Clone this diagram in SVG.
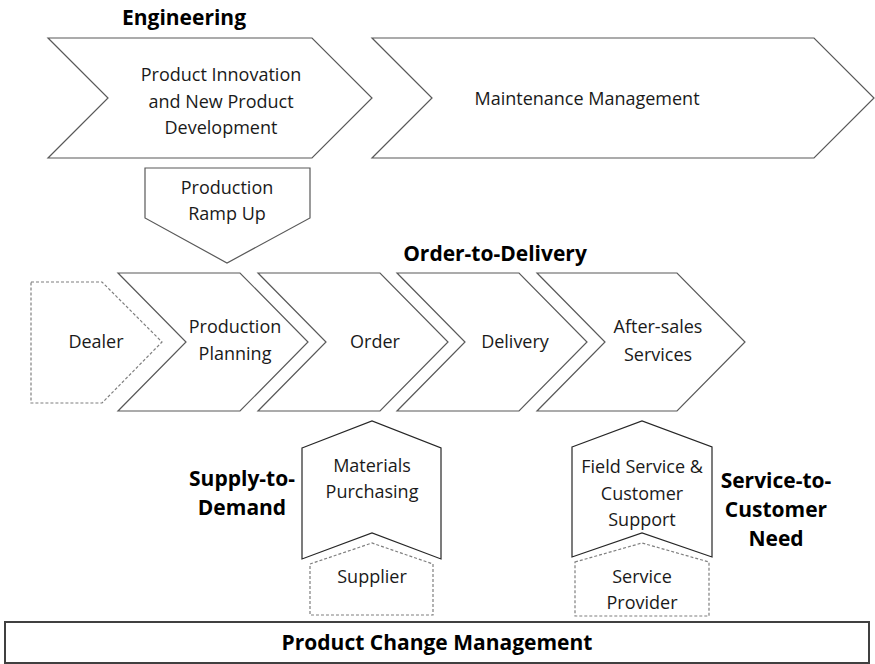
<svg xmlns="http://www.w3.org/2000/svg" width="875" height="664" viewBox="0 0 875 664">
<style>
.bg{fill:#fff}
.ch{fill:#fff;stroke:#595959;stroke-width:1.2}
.sd{fill:#fff;stroke:#262626;stroke-width:1.2}
.ds{fill:#fff;stroke:#7f7f7f;stroke-width:1.2;stroke-dasharray:3 2}
.bx{fill:#fff;stroke:#404040;stroke-width:2}
.t{font-family:"Open Sans","Liberation Sans",sans-serif;font-size:18px;fill:#1a1a1a;text-anchor:middle}
.h{font-family:"Open Sans","Liberation Sans",sans-serif;font-size:21px;font-weight:bold;fill:#000;text-anchor:middle}
</style>
<rect class="bg" x="0" y="0" width="875" height="664"/>
<g id="title-engineering"><text class="h" x="184" y="25">Engineering</text></g>
<g id="product-innovation">
<polygon class="ch" points="48,38 312,38 372,98 312,158 48,158 108,98"/>
<text class="t" x="221" y="81">Product Innovation</text>
<text class="t" x="221" y="108">and New Product</text>
<text class="t" x="221" y="134">Development</text>
</g>
<g id="maintenance-management">
<polygon class="ch" points="372,38 814,38 874,98 814,158 372,158 432,98"/>
<text class="t" x="587" y="105">Maintenance Management</text>
</g>
<g id="production-ramp-up">
<polygon class="ch" points="145,168 310,168 310,218 227,263 145,218"/>
<text class="t" x="227" y="194">Production</text>
<text class="t" x="227" y="220">Ramp Up</text>
</g>
<g id="title-order-to-delivery"><text class="h" x="495" y="261">Order-to-Delivery</text></g>
<g id="dealer">
<polygon class="ds" points="31,282 102,282 162,342 102,403 31,403"/>
<text class="t" x="96" y="348">Dealer</text>
</g>
<g id="production-planning">
<polygon class="ch" points="118,273 240,273 308,342 240,411 118,411 186,342"/>
<text class="t" x="235" y="333">Production</text>
<text class="t" x="235" y="360">Planning</text>
</g>
<g id="order">
<polygon class="ch" points="258,273 380,273 448,342 380,411 258,411 326,342"/>
<text class="t" x="375" y="348">Order</text>
</g>
<g id="delivery">
<polygon class="ch" points="397,273 519,273 587,342 519,411 397,411 465,342"/>
<text class="t" x="515" y="348">Delivery</text>
</g>
<g id="after-sales">
<polygon class="ch" points="537,273 677,273 745,342 677,411 537,411 605,342"/>
<text class="t" x="658" y="333">After-sales</text>
<text class="t" x="658" y="361">Services</text>
</g>
<g id="title-supply-to-demand">
<text class="h" x="242" y="486">Supply-to-</text>
<text class="h" x="242" y="515">Demand</text>
</g>
<g id="materials-purchasing">
<polygon class="sd" points="302,448 372,421 441,448 441,559 372,533 302,559"/>
<text class="t" x="372" y="472">Materials</text>
<text class="t" x="372" y="498">Purchasing</text>
</g>
<g id="supplier">
<polygon class="ds" points="310,564 372,543 433,564 433,615 310,615"/>
<text class="t" x="372" y="583">Supplier</text>
</g>
<g id="field-service">
<polygon class="sd" points="572,447 642,421 712,447 712,557 642,533 572,557"/>
<text class="t" x="642" y="473">Field Service &amp;</text>
<text class="t" x="642" y="500">Customer</text>
<text class="t" x="642" y="526">Support</text>
</g>
<g id="service-provider">
<polygon class="ds" points="575,562 642,543 709,562 709,616 575,616"/>
<text class="t" x="642" y="583">Service</text>
<text class="t" x="642" y="609">Provider</text>
</g>
<g id="title-service-to-customer-need">
<text class="h" x="776" y="488">Service-to-</text>
<text class="h" x="776" y="517">Customer</text>
<text class="h" x="776" y="546">Need</text>
</g>
<g id="product-change-management">
<rect class="bx" x="5" y="622" width="864" height="41"/>
<text class="h" x="437" y="650">Product Change Management</text>
</g>
<g id="connectors"></g>
</svg>
